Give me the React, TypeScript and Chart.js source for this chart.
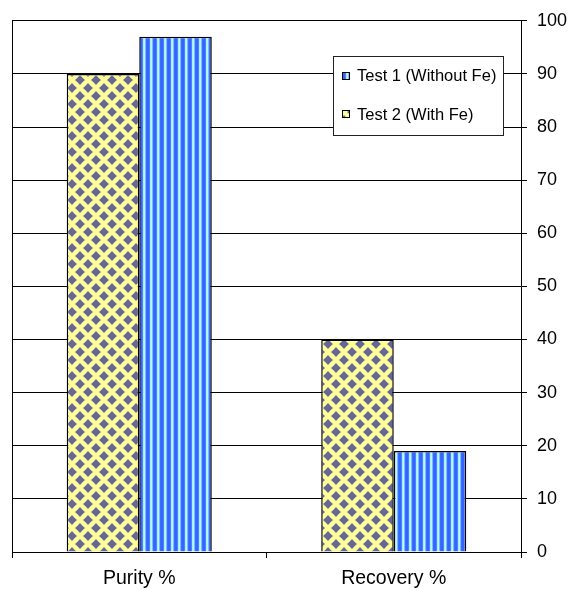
import React, { useEffect, useRef } from 'react';
import { Chart, registerables } from 'chart.js';

Chart.register(...registerables);

const categories = ['Purity %', 'Recovery %'];
const test2WithFeLabel = 'Test 2 (With Fe)';
const test1WithoutFeLabel = 'Test 1 (Without Fe)';
const test2WithFe = [90, 40];
const test1WithoutFe = [97, 19];
const yMin = 0;
const yMax = 100;
const yStep = 10;

const FONT = '"Liberation Sans", Arial, sans-serif';

function makeDiamondPattern(ctx: CanvasRenderingContext2D): CanvasPattern | string {
  const c = document.createElement('canvas');
  c.width = 16;
  c.height = 16;
  const g = c.getContext('2d');
  if (!g) return '#FFFF99';
  g.fillStyle = '#FFFF99';
  g.fillRect(0, 0, 16, 16);
  g.fillStyle = '#666699';
  const centers = [[0, 0], [16, 0], [0, 16], [16, 16], [8, 8]];
  const r = 5.0;
  const k = 0.45;
  for (const [cx, cy] of centers) {
    g.beginPath();
    g.moveTo(cx, cy - r);
    g.quadraticCurveTo(cx + r * k, cy - r * k, cx + r, cy);
    g.quadraticCurveTo(cx + r * k, cy + r * k, cx, cy + r);
    g.quadraticCurveTo(cx - r * k, cy + r * k, cx - r, cy);
    g.quadraticCurveTo(cx - r * k, cy - r * k, cx, cy - r);
    g.closePath();
    g.fill();
  }
  return ctx.createPattern(c, 'repeat') || '#FFFF99';
}

function makeStripePattern(ctx: CanvasRenderingContext2D): CanvasPattern | string {
  const cols = ['#3366FF', '#3366FF', '#4F80FF', '#A8EEFF', '#B8F8FF', '#7FB8FF', '#3C6EFF'];
  const c = document.createElement('canvas');
  c.width = cols.length;
  c.height = 1;
  const g = c.getContext('2d');
  if (!g) return '#3366FF';
  cols.forEach((col, i) => {
    g.fillStyle = col;
    g.fillRect(i, 0, 1, 1);
  });
  return ctx.createPattern(c, 'repeat') || '#3366FF';
}

const frameLine = {
  id: 'frameLine',
  beforeDatasetsDraw(chart: any) {
    const { ctx, chartArea } = chart;
    ctx.save();
    ctx.strokeStyle = '#000';
    ctx.lineWidth = 1;
    ctx.beginPath();
    const x = Math.round(chartArea.left) + 0.5;
    ctx.moveTo(x, chartArea.top);
    ctx.lineTo(x, chartArea.bottom);
    ctx.stroke();
    ctx.restore();
  },
};

const legendBox = {
  id: 'legendBox',
  afterDraw(chart: any) {
    const { ctx, chartArea } = chart;
    const w = 170;
    const h = 79;
    const x = Math.round(chartArea.right - 18 - w);
    const y = Math.round(chartArea.top + 35);
    ctx.save();
    ctx.fillStyle = '#fff';
    ctx.fillRect(x, y, w, h);
    ctx.strokeStyle = '#222';
    ctx.lineWidth = 1;
    ctx.strokeRect(x + 0.5, y + 0.5, w, h);
    const items = [chart.data.datasets[1], chart.data.datasets[0]];
    items.forEach((ds: any, i: number) => {
      const cy = y + 19.5 + i * 38.5;
      ctx.fillStyle = ds.backgroundColor;
      ctx.fillRect(x + 9, Math.round(cy - 4), 8, 8);
      ctx.strokeStyle = '#000';
      ctx.strokeRect(x + 9.5, Math.round(cy - 4) + 0.5, 7, 7);
      ctx.fillStyle = '#000';
      ctx.font = '16.5px ' + FONT;
      ctx.textBaseline = 'middle';
      ctx.textAlign = 'left';
      ctx.fillText(ds.label, x + 24, cy + 1);
    });
    ctx.restore();
  },
};

export default function App() {
  const ref = useRef<HTMLCanvasElement>(null);

  useEffect(() => {
    const canvas = ref.current;
    if (!canvas) return;
    const ctx = canvas.getContext('2d');
    if (!ctx) return;
    const diamond = makeDiamondPattern(ctx);
    const stripes = makeStripePattern(ctx);

    const chart = new Chart(ctx, {
      type: 'bar',
      data: {
        labels: categories,
        datasets: [
          {
            label: test2WithFeLabel,
            data: test2WithFe,
            backgroundColor: diamond as any,
            borderColor: '#000',
            borderWidth: 1.5,
            categoryPercentage: 0.57,
            barPercentage: 1,
          },
          {
            label: test1WithoutFeLabel,
            data: test1WithoutFe,
            backgroundColor: stripes as any,
            borderColor: '#000',
            borderWidth: 1.5,
            categoryPercentage: 0.57,
            barPercentage: 1,
          },
        ],
      },
      options: {
        animation: false,
        responsive: true,
        maintainAspectRatio: false,
        devicePixelRatio: 1,
        layout: { padding: { left: 12, top: 18, right: 0, bottom: 0 } },
        plugins: {
          legend: { display: false },
          tooltip: { enabled: false },
          title: { display: false },
        },
        scales: {
          x: {
            grid: {
              offset: true,
              drawOnChartArea: false,
              drawTicks: true,
              tickLength: 6,
              color: '#000',
            },
            border: { display: true, color: '#000' },
            ticks: {
              color: '#000',
              padding: 9,
              font: { family: FONT, size: 19.5 },
            },
            afterFit: (s: any) => {
              s.height = 38;
            },
          },
          y: {
            position: 'right',
            min: yMin,
            max: yMax,
            ticks: {
              stepSize: yStep,
              color: '#000',
              padding: 10,
              font: { family: FONT, size: 18 },
            },
            grid: {
              color: '#000',
              tickLength: 6,
              lineWidth: 1,
            },
            border: { display: true, color: '#000' },
            afterFit: (s: any) => {
              s.width = 50;
            },
          },
        },
      },
      plugins: [frameLine, legendBox],
    });
    return () => chart.destroy();
  }, []);

  return (
    <div style={{ position: 'fixed', left: 0, top: 0, width: 571, height: 590, background: '#fff' }}>
      <canvas ref={ref} />
    </div>
  );
}
